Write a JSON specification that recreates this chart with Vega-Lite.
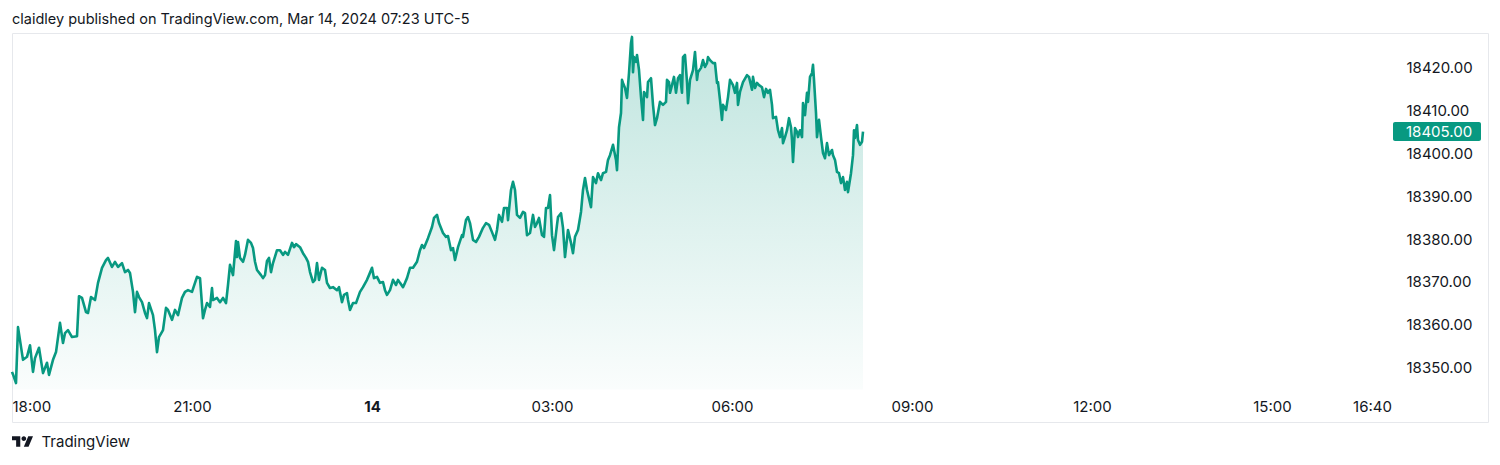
{
"$schema": "https://vega.github.io/schema/vega-lite/v6.json",
"width": 1476, "height": 389,
"autosize": {"type": "none"},
"padding": {"left": 12, "top": 33, "right": 12, "bottom": 43},
"background": "white",
"title": {"text": "claidley published on TradingView.com, Mar 14, 2024 07:23 UTC-5", "anchor": "start", "frame": "group", "orient": "top", "baseline": "middle", "offset": -1, "font": "Inter", "fontSize": 14.5, "fontWeight": "normal", "color": "#131722"},
"config": {"view": {"stroke": "#e6e8ec", "strokeWidth": 1}, "font": "Inter", "axis": {"grid": false, "domain": false, "ticks": false, "tickSize": 0}},
"datasets": {
"price": [
{"minute":0,"price":18349.1},{"minute":1,"price":18348.5},{"minute":4,"price":18346.5},{"minute":6,"price":18359.5},{"minute":11,"price":18351.9},{"minute":15,"price":18352.6},{"minute":18,"price":18355.3},{"minute":21,"price":18349.1},{"minute":23,"price":18352.3},{"minute":27,"price":18354.7},{"minute":31,"price":18348.8},{"minute":35,"price":18351.2},{"minute":37,"price":18348.4},{"minute":41,"price":18351.9},{"minute":44,"price":18353.7},{"minute":48,"price":18360.5},{"minute":51,"price":18355.8},{"minute":53,"price":18358.1},{"minute":56,"price":18358.8},{"minute":60,"price":18357.2},{"minute":65,"price":18357.4},{"minute":67,"price":18366.7},{"minute":70,"price":18366.3},{"minute":74,"price":18363.0},{"minute":76,"price":18362.8},{"minute":79,"price":18366.5},{"minute":83,"price":18365.8},{"minute":86,"price":18369.8},{"minute":90,"price":18373.3},{"minute":94,"price":18375.1},{"minute":96,"price":18375.6},{"minute":100,"price":18373.5},{"minute":103,"price":18374.7},{"minute":106,"price":18373.5},{"minute":110,"price":18374.4},{"minute":113,"price":18372.3},{"minute":116,"price":18372.8},{"minute":118,"price":18372.1},{"minute":121,"price":18367.7},{"minute":123,"price":18363.0},{"minute":125,"price":18367.7},{"minute":127,"price":18366.5},{"minute":130,"price":18365.3},{"minute":133,"price":18362.8},{"minute":135,"price":18361.6},{"minute":137,"price":18365.1},{"minute":141,"price":18362.3},{"minute":143,"price":18358.8},{"minute":145,"price":18353.7},{"minute":147,"price":18357.2},{"minute":151,"price":18358.8},{"minute":154,"price":18364.0},{"minute":156,"price":18363.5},{"minute":160,"price":18361.2},{"minute":163,"price":18363.5},{"minute":166,"price":18362.3},{"minute":170,"price":18366.3},{"minute":173,"price":18367.7},{"minute":176,"price":18368.1},{"minute":180,"price":18367.7},{"minute":185,"price":18371.2},{"minute":188,"price":18370.9},{"minute":191,"price":18361.6},{"minute":193,"price":18363.5},{"minute":195,"price":18365.1},{"minute":198,"price":18364.2},{"minute":200,"price":18368.6},{"minute":201,"price":18365.8},{"minute":205,"price":18366.3},{"minute":208,"price":18365.3},{"minute":211,"price":18366.3},{"minute":214,"price":18365.1},{"minute":216,"price":18369.3},{"minute":218,"price":18374.0},{"minute":221,"price":18371.6},{"minute":224,"price":18379.5},{"minute":225,"price":18375.8},{"minute":226,"price":18379.3},{"minute":228,"price":18375.6},{"minute":231,"price":18374.7},{"minute":233,"price":18376.3},{"minute":236,"price":18379.8},{"minute":239,"price":18379.1},{"minute":241,"price":18377.9},{"minute":243,"price":18374.7},{"minute":245,"price":18372.8},{"minute":249,"price":18371.6},{"minute":251,"price":18370.9},{"minute":253,"price":18371.6},{"minute":255,"price":18374.9},{"minute":257,"price":18375.6},{"minute":259,"price":18372.3},{"minute":261,"price":18374.4},{"minute":265,"price":18377.4},{"minute":268,"price":18377.4},{"minute":271,"price":18376.3},{"minute":273,"price":18377.0},{"minute":276,"price":18376.3},{"minute":280,"price":18379.1},{"minute":282,"price":18378.1},{"minute":284,"price":18378.8},{"minute":288,"price":18378.1},{"minute":291,"price":18376.7},{"minute":294,"price":18375.6},{"minute":296,"price":18374.7},{"minute":298,"price":18372.3},{"minute":301,"price":18370.0},{"minute":303,"price":18370.5},{"minute":305,"price":18374.4},{"minute":307,"price":18370.5},{"minute":310,"price":18373.3},{"minute":313,"price":18372.8},{"minute":315,"price":18369.8},{"minute":318,"price":18368.6},{"minute":321,"price":18368.8},{"minute":325,"price":18368.1},{"minute":327,"price":18368.8},{"minute":330,"price":18365.3},{"minute":332,"price":18367.0},{"minute":335,"price":18367.4},{"minute":336,"price":18365.8},{"minute":338,"price":18363.5},{"minute":341,"price":18365.1},{"minute":344,"price":18365.1},{"minute":348,"price":18367.7},{"minute":351,"price":18368.8},{"minute":355,"price":18370.5},{"minute":357,"price":18371.6},{"minute":360,"price":18373.3},{"minute":362,"price":18370.9},{"minute":365,"price":18371.2},{"minute":368,"price":18369.8},{"minute":371,"price":18370.0},{"minute":373,"price":18368.1},{"minute":375,"price":18367.0},{"minute":378,"price":18368.1},{"minute":381,"price":18370.5},{"minute":384,"price":18369.3},{"minute":386,"price":18370.5},{"minute":388,"price":18369.8},{"minute":391,"price":18368.8},{"minute":393,"price":18369.8},{"minute":395,"price":18370.9},{"minute":398,"price":18373.3},{"minute":401,"price":18373.3},{"minute":405,"price":18374.7},{"minute":408,"price":18377.4},{"minute":410,"price":18378.6},{"minute":412,"price":18377.9},{"minute":416,"price":18380.2},{"minute":420,"price":18382.8},{"minute":422,"price":18384.9},{"minute":425,"price":18385.6},{"minute":427,"price":18383.7},{"minute":431,"price":18381.4},{"minute":434,"price":18380.5},{"minute":436,"price":18380.7},{"minute":439,"price":18377.4},{"minute":441,"price":18377.9},{"minute":443,"price":18375.1},{"minute":446,"price":18378.1},{"minute":450,"price":18380.9},{"minute":451,"price":18380.5},{"minute":454,"price":18384.4},{"minute":456,"price":18385.1},{"minute":458,"price":18383.7},{"minute":461,"price":18379.8},{"minute":464,"price":18379.3},{"minute":467,"price":18380.5},{"minute":471,"price":18382.6},{"minute":474,"price":18383.7},{"minute":477,"price":18383.3},{"minute":480,"price":18381.6},{"minute":483,"price":18379.8},{"minute":485,"price":18382.1},{"minute":487,"price":18385.6},{"minute":490,"price":18384.0},{"minute":492,"price":18387.2},{"minute":495,"price":18387.2},{"minute":496,"price":18384.4},{"minute":499,"price":18391.4},{"minute":501,"price":18393.3},{"minute":503,"price":18391.4},{"minute":505,"price":18385.6},{"minute":508,"price":18384.9},{"minute":511,"price":18386.3},{"minute":513,"price":18386.0},{"minute":515,"price":18380.9},{"minute":518,"price":18381.4},{"minute":521,"price":18385.6},{"minute":523,"price":18382.8},{"minute":525,"price":18383.7},{"minute":527,"price":18384.9},{"minute":530,"price":18380.9},{"minute":532,"price":18380.5},{"minute":534,"price":18387.2},{"minute":536,"price":18387.2},{"minute":538,"price":18390.2},{"minute":540,"price":18380.9},{"minute":542,"price":18377.4},{"minute":545,"price":18383.3},{"minute":546,"price":18385.1},{"minute":549,"price":18386.0},{"minute":551,"price":18382.6},{"minute":553,"price":18375.8},{"minute":556,"price":18382.1},{"minute":559,"price":18379.1},{"minute":561,"price":18376.7},{"minute":563,"price":18380.5},{"minute":566,"price":18382.1},{"minute":569,"price":18386.3},{"minute":571,"price":18391.4},{"minute":573,"price":18394.2},{"minute":575,"price":18391.4},{"minute":579,"price":18387.4},{"minute":581,"price":18394.4},{"minute":584,"price":18393.0},{"minute":586,"price":18395.3},{"minute":589,"price":18393.7},{"minute":591,"price":18395.3},{"minute":594,"price":18395.6},{"minute":596,"price":18398.4},{"minute":598,"price":18399.5},{"minute":601,"price":18401.9},{"minute":604,"price":18398.4},{"minute":605,"price":18396.0},{"minute":607,"price":18406.0},{"minute":609,"price":18409.3},{"minute":610,"price":18417.0},{"minute":611,"price":18416.3},{"minute":613,"price":18415.1},{"minute":615,"price":18412.8},{"minute":617,"price":18418.6},{"minute":619,"price":18425.6},{"minute":620,"price":18427.0},{"minute":621,"price":18418.8},{"minute":622,"price":18422.3},{"minute":624,"price":18421.2},{"minute":625,"price":18422.8},{"minute":627,"price":18419.3},{"minute":629,"price":18413.0},{"minute":631,"price":18407.7},{"minute":632,"price":18414.2},{"minute":635,"price":18413.0},{"minute":636,"price":18416.5},{"minute":639,"price":18417.4},{"minute":641,"price":18411.2},{"minute":643,"price":18406.5},{"minute":645,"price":18408.1},{"minute":648,"price":18411.9},{"minute":651,"price":18411.2},{"minute":654,"price":18411.9},{"minute":655,"price":18417.0},{"minute":657,"price":18416.5},{"minute":658,"price":18414.0},{"minute":660,"price":18415.8},{"minute":662,"price":18417.7},{"minute":664,"price":18414.0},{"minute":666,"price":18417.4},{"minute":668,"price":18418.1},{"minute":670,"price":18414.0},{"minute":671,"price":18422.3},{"minute":673,"price":18422.8},{"minute":675,"price":18416.5},{"minute":676,"price":18411.6},{"minute":678,"price":18417.0},{"minute":681,"price":18419.3},{"minute":683,"price":18423.5},{"minute":685,"price":18417.0},{"minute":686,"price":18418.8},{"minute":689,"price":18419.8},{"minute":691,"price":18421.6},{"minute":693,"price":18420.0},{"minute":695,"price":18420.9},{"minute":696,"price":18422.3},{"minute":698,"price":18421.6},{"minute":701,"price":18420.9},{"minute":703,"price":18420.9},{"minute":705,"price":18416.3},{"minute":706,"price":18416.5},{"minute":708,"price":18412.3},{"minute":710,"price":18407.7},{"minute":711,"price":18411.2},{"minute":714,"price":18410.0},{"minute":716,"price":18413.0},{"minute":718,"price":18417.0},{"minute":721,"price":18415.8},{"minute":723,"price":18414.0},{"minute":725,"price":18416.3},{"minute":726,"price":18411.2},{"minute":728,"price":18414.2},{"minute":731,"price":18416.5},{"minute":735,"price":18418.1},{"minute":737,"price":18417.7},{"minute":740,"price":18414.7},{"minute":741,"price":18417.7},{"minute":743,"price":18415.1},{"minute":745,"price":18416.3},{"minute":747,"price":18415.8},{"minute":750,"price":18415.3},{"minute":752,"price":18413.0},{"minute":754,"price":18414.9},{"minute":756,"price":18414.0},{"minute":758,"price":18414.7},{"minute":760,"price":18411.2},{"minute":761,"price":18408.1},{"minute":764,"price":18408.4},{"minute":766,"price":18405.3},{"minute":768,"price":18403.7},{"minute":770,"price":18405.8},{"minute":771,"price":18402.3},{"minute":773,"price":18403.7},{"minute":775,"price":18405.3},{"minute":777,"price":18408.1},{"minute":779,"price":18406.0},{"minute":780,"price":18403.0},{"minute":781,"price":18397.9},{"minute":783,"price":18405.8},{"minute":785,"price":18404.9},{"minute":786,"price":18403.7},{"minute":788,"price":18405.3},{"minute":790,"price":18403.7},{"minute":791,"price":18411.6},{"minute":793,"price":18408.8},{"minute":795,"price":18414.0},{"minute":796,"price":18411.9},{"minute":798,"price":18417.7},{"minute":800,"price":18418.6},{"minute":801,"price":18420.5},{"minute":802,"price":18417.0},{"minute":804,"price":18409.3},{"minute":805,"price":18403.7},{"minute":807,"price":18407.7},{"minute":809,"price":18403.7},{"minute":811,"price":18400.0},{"minute":813,"price":18398.8},{"minute":815,"price":18402.3},{"minute":817,"price":18399.5},{"minute":820,"price":18400.7},{"minute":821,"price":18399.5},{"minute":823,"price":18398.4},{"minute":825,"price":18395.6},{"minute":827,"price":18395.3},{"minute":829,"price":18393.0},{"minute":831,"price":18394.4},{"minute":833,"price":18391.4},{"minute":835,"price":18393.3},{"minute":836,"price":18390.9},{"minute":839,"price":18395.3},{"minute":841,"price":18399.5},{"minute":842,"price":18405.3},{"minute":843,"price":18403.5},{"minute":845,"price":18406.5},{"minute":846,"price":18403.0},{"minute":848,"price":18401.9},{"minute":850,"price":18402.6},{"minute":851,"price":18405.0}
],
"last": [{"price": 18405}],
"brand": [{"name": "TradingView"}]
},
"layer": [
{
"data": {"name": "price"},
"mark": {"type": "area", "line": false, "color": {"gradient": "linear", "x1": 0, "y1": 0, "x2": 0, "y2": 1, "stops": [{"offset": 0, "color": "rgba(8,153,129,0.26)"}, {"offset": 1, "color": "rgba(8,153,129,0.02)"}]}},
"encoding": {
"x": {"field": "minute", "type": "quantitative", "scale": {"domain": [0, 1476], "nice": false, "zero": false},
"axis": {"orient": "bottom", "offset": -16, "values": [0, 180, 360, 540, 720, 900, 1080, 1260, 1360],
"labelExpr": "datum.value == 360 ? '14' : timeFormat(datetime(2024, 2, 13, 18, datum.value), '%H:%M')",
"labelFont": "Inter", "labelFontSize": 15, "labelColor": "#131722", "labelBaseline": "middle", "labelPadding": 0, "labelFlush": true, "labelOverlap": false,
"labelFontWeight": {"condition": {"test": "datum.value == 360", "value": "bold"}, "value": "normal"},
"title": "TradingView", "titleAnchor": "start", "titleAlign": "left", "titleX": 29, "titleY": 35.5, "titleBaseline": "middle", "titleFont": "Inter", "titleFontSize": 15, "titleFontWeight": "normal", "titleColor": "#131722"}},
"y": {"field": "price", "type": "quantitative", "scale": {"domain": [18337.44, 18427.91], "nice": false, "zero": false},
"axis": {"orient": "right", "offset": -82, "values": [18350, 18360, 18370, 18380, 18390, 18400, 18410, 18420], "format": ".2f", "labelAlign": "left", "labelBaseline": "middle", "labelPadding": 0, "labelFont": "Inter", "labelFontSize": 15, "labelColor": "#131722", "labelOverlap": false, "labelBound": false, "title": null}},
"y2": {"datum": 18345}
}
},
{
"data": {"name": "price"},
"mark": {"type": "line", "color": "#089981", "strokeWidth": 2.6, "strokeJoin": "round"},
"encoding": {"x": {"field": "minute", "type": "quantitative"}, "y": {"field": "price", "type": "quantitative"}}
},
{
"data": {"name": "last"},
"mark": {"type": "rect", "color": "#089981", "yOffset": -9.5, "y2Offset": 9.5, "cornerRadius": 2},
"encoding": {"x": {"datum": 1381}, "x2": {"datum": 1469}, "y": {"field": "price", "type": "quantitative"}, "y2": {"field": "price"}}
},
{
"data": {"name": "last"},
"mark": {"type": "text", "color": "white", "align": "left", "baseline": "middle", "font": "Inter", "fontSize": 15},
"encoding": {"x": {"datum": 1394}, "y": {"field": "price", "type": "quantitative"}, "text": {"field": "price", "type": "quantitative", "format": ".2f"}}
},
{
"data": {"name": "brand"},
"mark": {"type": "point", "filled": true, "color": "#131722", "opacity": 1, "size": 441, "strokeWidth": 0,
"shape": "M-0.211,0.507L-0.606,0.507L-0.606,-0.113L-1,-0.113L-1,-0.507L-0.211,-0.507Z M0.577,0.507L0.127,0.507L0.549,-0.507L1,-0.507Z M-0.098,-0.282A0.225,0.225,0,1,0,0.352,-0.282A0.225,0.225,0,1,0,-0.098,-0.282Z"},
"encoding": {"x": {"datum": 10.5}, "y": {"datum": 18332.9}}
}
]
}
